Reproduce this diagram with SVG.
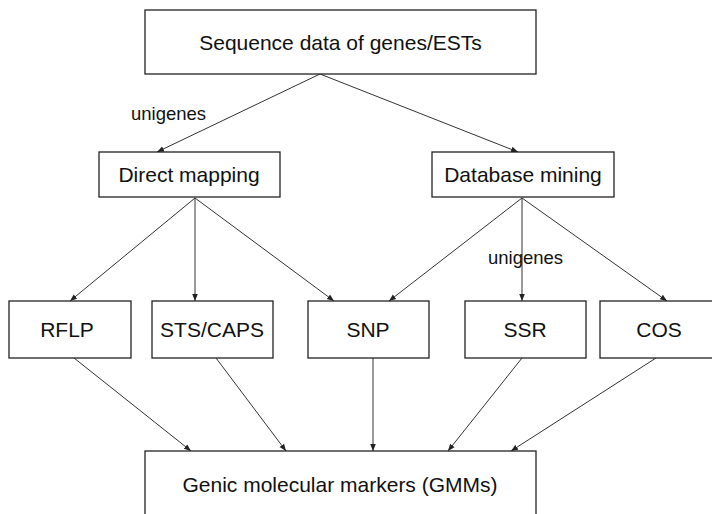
<svg xmlns="http://www.w3.org/2000/svg" width="712" height="514" viewBox="0 0 712 514">
<style>
.box{fill:#fff;stroke:#222;stroke-width:1.3}
.t{font-family:"Liberation Sans",Arial,sans-serif;font-size:21px;fill:#111;text-anchor:middle}
.lbl{font-family:"Liberation Sans",Arial,sans-serif;font-size:18.5px;fill:#111}
.c line{stroke:#333;stroke-width:1;marker-end:url(#ah)}
</style>
<defs>
<marker id="ah" viewBox="0 0 10 10" refX="10" refY="5" markerWidth="7" markerHeight="7" markerUnits="userSpaceOnUse" orient="auto">
<path d="M0,1 L10,5 L0,9 Z" fill="#222"/>
</marker>
</defs>
<rect width="712" height="514" fill="#fff"/>
<g id="connectors" class="c">
<line x1="320" y1="74" x2="157" y2="152"/>
<line x1="320" y1="74" x2="518" y2="152"/>
<line x1="195" y1="198" x2="70" y2="301"/>
<line x1="195" y1="198" x2="195" y2="301"/>
<line x1="195" y1="198" x2="334" y2="301"/>
<line x1="522" y1="198" x2="389" y2="301"/>
<line x1="522" y1="198" x2="522" y2="301"/>
<line x1="522" y1="198" x2="667" y2="301"/>
<line x1="74" y1="358" x2="191" y2="451"/>
<line x1="216" y1="358" x2="286" y2="451"/>
<line x1="373" y1="358" x2="373" y2="451"/>
<line x1="522" y1="358" x2="448" y2="451"/>
<line x1="656" y1="358" x2="511" y2="451"/>
</g>
<g id="n-top"><rect class="box" x="145" y="10" width="391" height="64"/><text class="t" x="340.5" y="50">Sequence data of genes/ESTs</text></g>
<g id="lbl-unigenes-1"><text class="lbl" x="131" y="120">unigenes</text></g>
<g id="n-direct"><rect class="box" x="99" y="152" width="181" height="45"/><text class="t" x="189" y="182">Direct mapping</text></g>
<g id="n-db"><rect class="box" x="432" y="152" width="182" height="45"/><text class="t" x="523" y="182">Database mining</text></g>
<g id="lbl-unigenes-2"><text class="lbl" x="488" y="264">unigenes</text></g>
<g id="n-rflp"><rect class="box" x="9" y="301" width="122" height="57"/><text class="t" x="67" y="337">RFLP</text></g>
<g id="n-sts"><rect class="box" x="152" y="301" width="121" height="57"/><text class="t" x="212" y="337">STS/CAPS</text></g>
<g id="n-snp"><rect class="box" x="308" y="301" width="121" height="57"/><text class="t" x="368" y="337">SNP</text></g>
<g id="n-ssr"><rect class="box" x="465" y="301" width="121" height="57"/><text class="t" x="525" y="337">SSR</text></g>
<g id="n-cos"><rect class="box" x="600" y="301" width="122" height="57"/><text class="t" x="659" y="337">COS</text></g>
<g id="n-gmm"><rect class="box" x="145" y="451" width="391" height="75"/><text class="t" x="340" y="492">Genic molecular markers (GMMs)</text></g>
</svg>
